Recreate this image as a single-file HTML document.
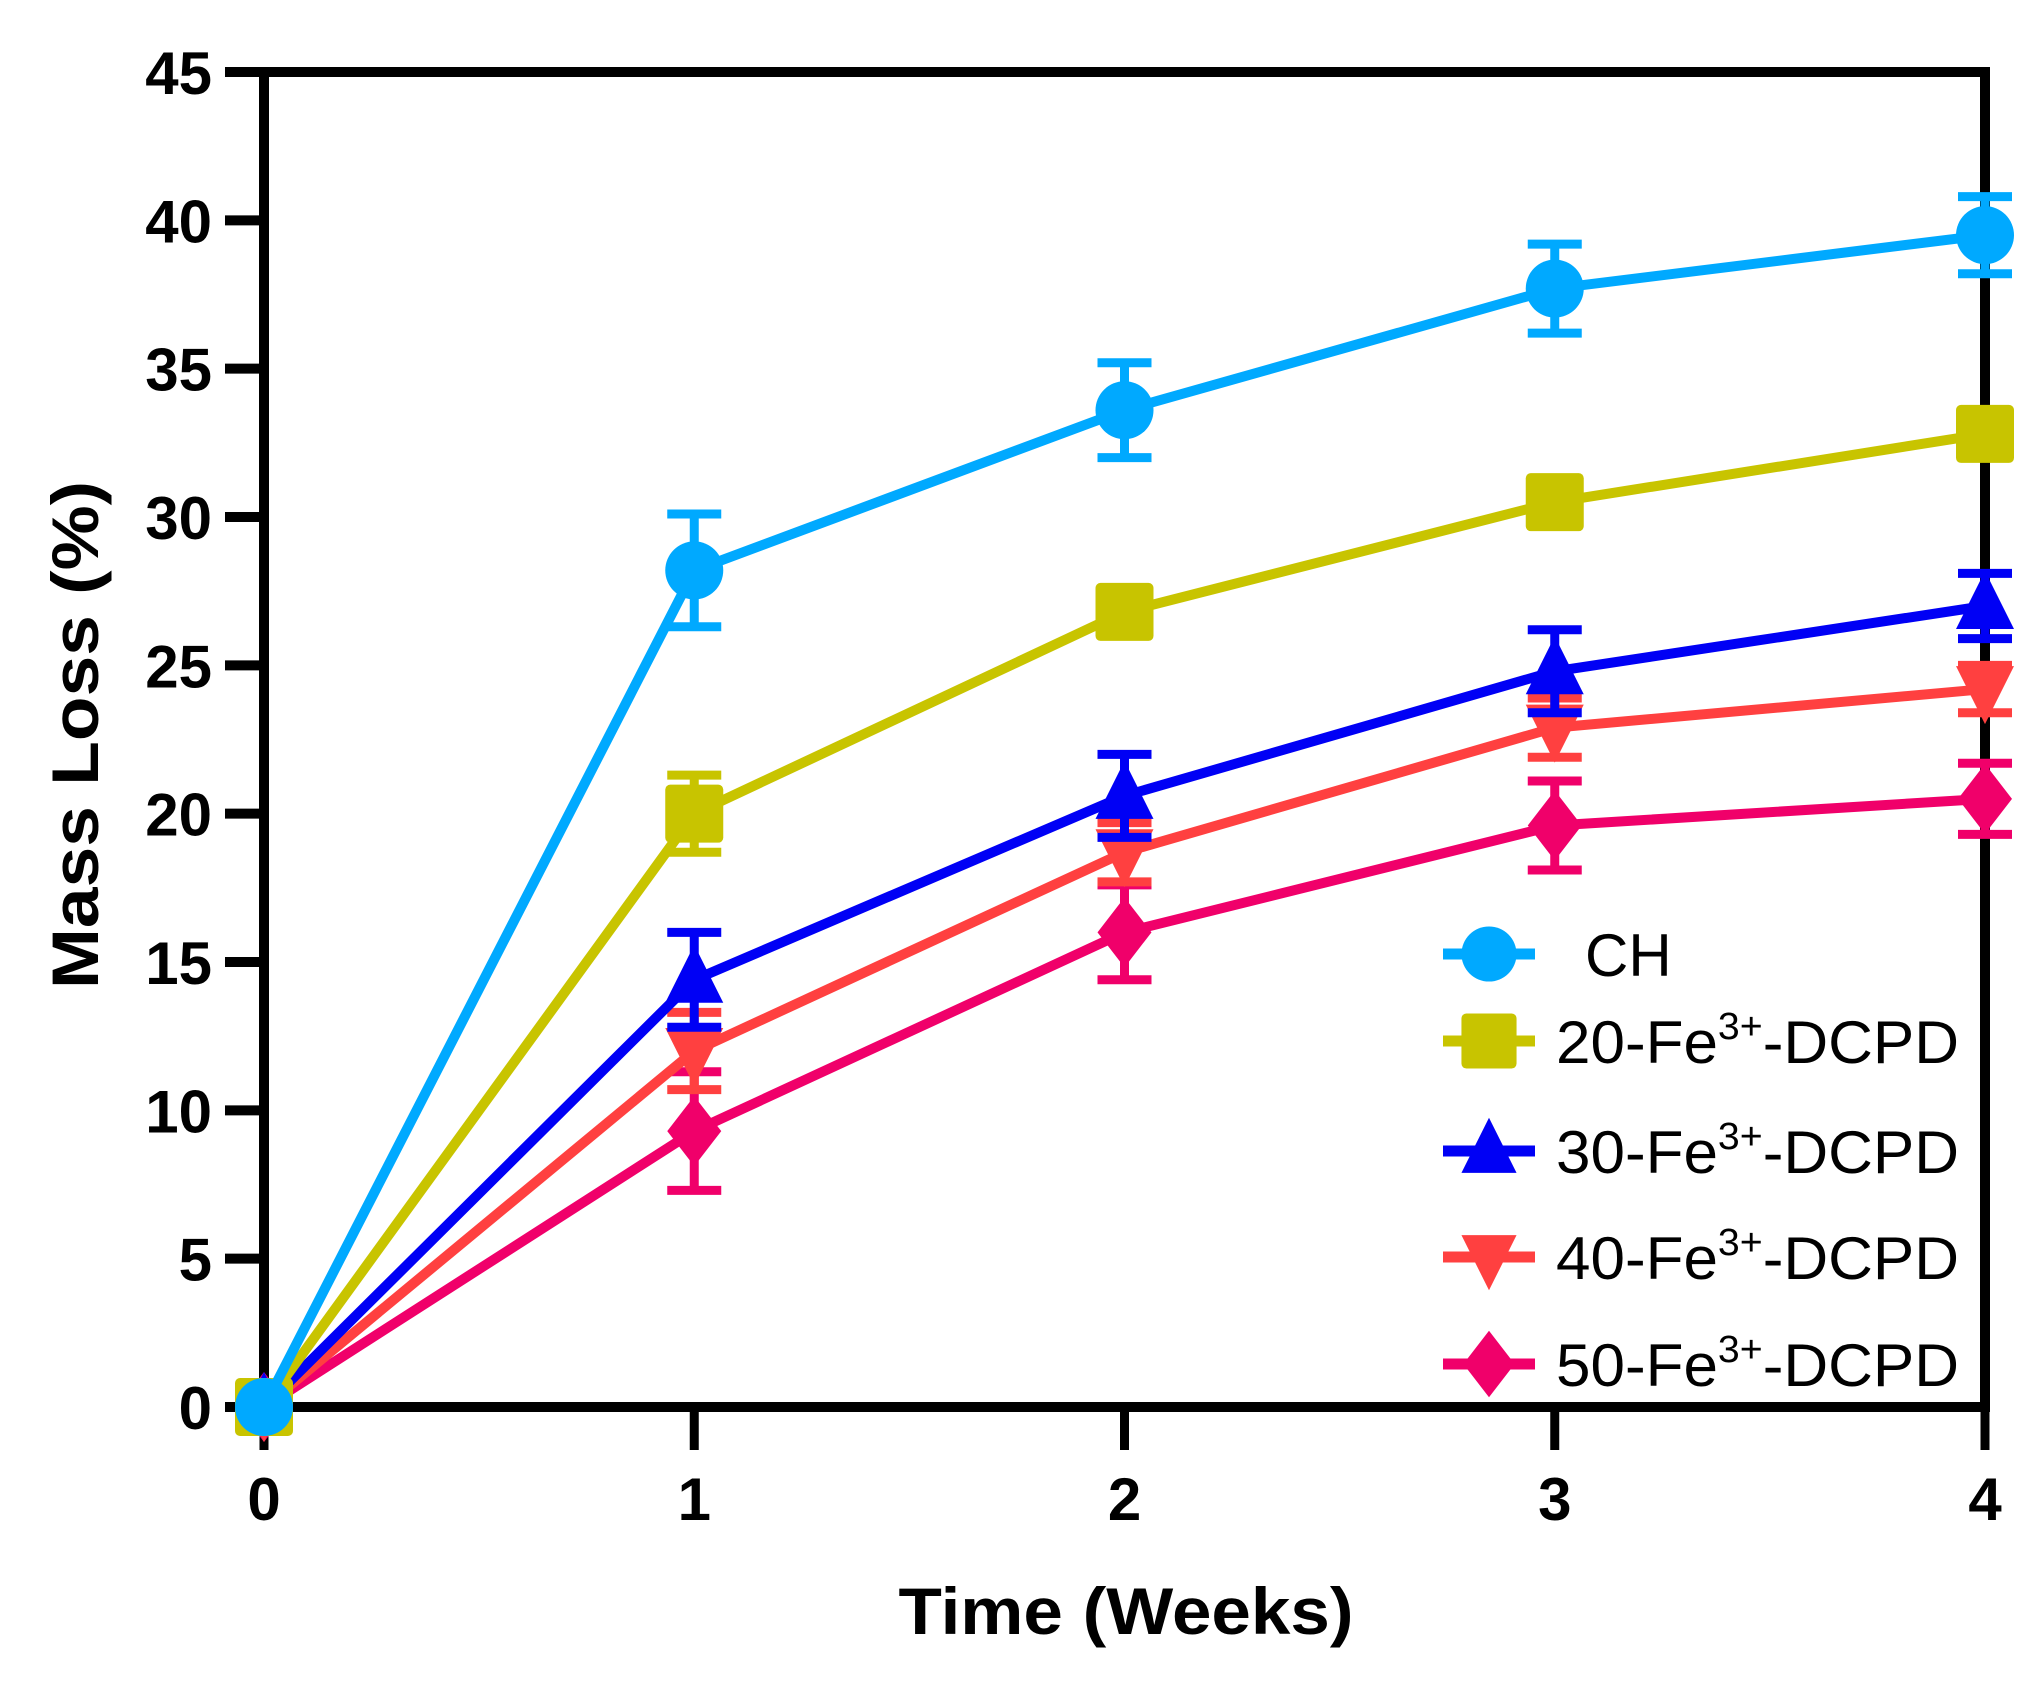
<!DOCTYPE html>
<html><head><meta charset="utf-8"><style>
html,body{margin:0;padding:0;background:#fff;}
svg{display:block;}
.tk{font-family:"Liberation Sans Narrow","Liberation Sans",sans-serif;font-weight:bold;font-size:60px;fill:#000;}
.ttl{font-family:"Liberation Sans Narrow","Liberation Sans",sans-serif;font-weight:bold;font-size:66px;fill:#000;}
.lg{font-family:"Liberation Sans",sans-serif;font-size:60px;fill:#000;}
</style></head><body>
<svg id="chart" width="2041" height="1691" viewBox="0 0 2041 1691" xmlns="http://www.w3.org/2000/svg">
<g id="axes"></g>
<g id="series"></g>
<g id="legend"></g>
<text class="ttl" x="1126" y="1634" text-anchor="middle" textLength="455" lengthAdjust="spacingAndGlyphs">Time (Weeks)</text>
<text class="ttl" transform="translate(98,735) rotate(-90)" text-anchor="middle" textLength="508" lengthAdjust="spacingAndGlyphs">Mass Loss (%)</text>
</svg>
<script>
const weeks=[0,1,2,3,4];
const xTicks=["0","1","2","3","4"];
const yTicks=[0,5,10,15,20,25,30,35,40,45];
const names=["CH","20","30","40","50"];
const chVals=[0,28.2,33.6,37.7,39.5];
const chErr=[0,1.9,1.6,1.5,1.3];
const fe20Vals=[0,20.0,26.8,30.5,32.8];
const fe20Err=[0,1.3,0.6,0.6,0.6];
const fe30Vals=[0,14.4,20.6,24.8,27.0];
const fe30Err=[0,1.6,1.4,1.4,1.1];
const fe40Vals=[0,12.0,18.7,22.9,24.2];
const fe40Err=[0,1.3,1.0,1.0,0.8];
const fe50Vals=[0,9.3,16.0,19.6,20.5];
const fe50Err=[0,2.0,1.6,1.5,1.2];

const NS="http://www.w3.org/2000/svg";
const X0=264,X1=1985,Y0=1407,Y1=72;
const xs=v=>X0+(v-0)/(4-0)*(X1-X0);
const ys=v=>Y0-(v-0)/(45-0)*(Y0-Y1);
function mk(tag,attrs,parent){const e=document.createElementNS(NS,tag);for(const k in attrs)e.setAttribute(k,attrs[k]);parent.appendChild(e);return e;}
const axes=document.getElementById('axes');
let l=mk('line',{x1:X0,y1:Y1,x2:X0,y2:Y0,stroke:'#000','stroke-width':10},axes);


l=mk('line',{x1:225,y1:Y1,x2:X1+5,y2:Y1,stroke:'#000','stroke-width':10},axes);


l=mk('line',{x1:X1,y1:Y1-5,x2:X1,y2:Y0,stroke:'#000','stroke-width':10},axes);


l=mk('line',{x1:X0-5,y1:Y0,x2:X1+5,y2:Y0,stroke:'#000','stroke-width':10},axes);


yTicks.forEach(v=>{
  const t=mk('line',{x1:225,y1:ys(v),x2:X0,y2:ys(v),stroke:'#000','stroke-width':10},axes);
  
  
  const tx=mk('text',{x:212,y:ys(v)+22,'text-anchor':'end',class:'tk'},axes);
  tx.textContent=v;
  
  
});
weeks.forEach((w,i)=>{
  const t=mk('line',{x1:xs(w),y1:Y0,x2:xs(w),y2:1450,stroke:'#000','stroke-width':9},axes);
  
  
  const tx=mk('text',{x:xs(w),y:1520,'text-anchor':'middle',class:'tk'},axes);
  tx.textContent=xTicks[i];
  
  
});
const colors=["#00a9ff","#c8c400","#0000f5","#ff4040","#f0006a"];
const shapes=["circle","square","up","down","diamond"];
const vals=[chVals,fe20Vals,fe30Vals,fe40Vals,fe50Vals];
const errs=[chErr,fe20Err,fe30Err,fe40Err,fe50Err];
function marker(shape,x,y,c,g,s){
  s=s||1;let e;
  if(shape==='circle')e=mk('circle',{cx:x,cy:y,r:29*s,fill:c},g);
  else if(shape==='square')e=mk('rect',{x:x-29*s,y:y-29*s,width:58*s,height:58*s,rx:5,fill:c},g);
  else if(shape==='up')e=mk('polygon',{points:`${x},${y-35*s} ${x+29*s},${y+23*s} ${x-29*s},${y+23*s}`,fill:c},g);
  else if(shape==='down')e=mk('polygon',{points:`${x},${y+35*s} ${x+29*s},${y-23*s} ${x-29*s},${y-23*s}`,fill:c},g);
  else e=mk('polygon',{points:`${x},${y-35*s} ${x+27*s},${y} ${x},${y+35*s} ${x-27*s},${y}`,fill:c},g);
  return e;
}
const sg=document.getElementById('series');
for(let k=vals.length-1;k>=0;k--){
  const g=mk('g',{},sg);
  
  
  const pts=weeks.map((w,i)=>xs(w)+','+ys(vals[k][i])).join(' ');
  const pl=mk('polyline',{points:pts,fill:'none',stroke:colors[k],'stroke-width':10,'stroke-linejoin':'round'},g);
  
  
  weeks.forEach((w,i)=>{
    const x=xs(w),v=vals[k][i],e=errs[k][i];
    if(e>0){
      const eb=mk('path',{d:`M${x},${ys(v+e)}V${ys(v-e)}M${x-27},${ys(v+e)}H${x+27}M${x-27},${ys(v-e)}H${x+27}`,stroke:colors[k],'stroke-width':9,fill:'none'},g);
      
      
    }
    const m=marker(shapes[k],x,ys(v),colors[k],g);
    
    
  });
}
const lg=document.getElementById('legend');
const legendLabels=["CH","20","30","40","50"];
const rowY=[954,1041,1151,1257,1364];
legendLabels.forEach((lab,k)=>{
  const g=mk('g',{},lg);
  
  
  mk('line',{x1:1443,y1:rowY[k],x2:1535,y2:rowY[k],stroke:colors[k],'stroke-width':11},g);
  marker(shapes[k],1489,rowY[k],colors[k],g,0.95);
  const t=mk('text',{x:k===0?1585:1556,y:rowY[k]+22,class:'lg'},g);
  if(k===0){t.textContent='CH';}
  else{
    t.textContent=lab+'-Fe';
    const s=mk('tspan',{dy:-24,'font-size':38},t);s.textContent='3+';
    const s2=mk('tspan',{dy:24},t);s2.textContent='-DCPD';
    t.setAttribute('textLength',403);
    t.setAttribute('lengthAdjust','spacingAndGlyphs');
  }
});
</script>
</body></html>
